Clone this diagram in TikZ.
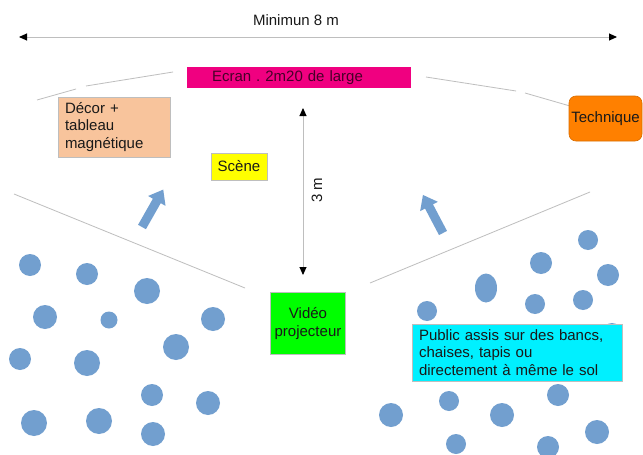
\documentclass[tikz,border=0pt]{standalone}
\usepackage{fontspec}
\setmainfont{Liberation Sans}
\frenchspacing
\usetikzlibrary{arrows.meta}
\definecolor{ecran}{RGB}{240,0,128}
\definecolor{ecrantxt}{RGB}{70,0,40}
\definecolor{peach}{RGB}{248,196,156}
\definecolor{jaune}{RGB}{255,255,0}
\definecolor{orangeT}{RGB}{255,128,0}
\definecolor{vert}{RGB}{0,255,0}
\definecolor{cyanP}{RGB}{0,240,255}
\definecolor{bleu}{RGB}{114,159,207}
\definecolor{grisL}{RGB}{190,190,190}
\definecolor{txt}{RGB}{25,25,25}
\tikzset{
  lbl/.style={font=\fontsize{15}{17.4}\selectfont, text=txt},
  box/.style={lbl, draw=grisL, line width=0.6pt, inner sep=0pt},
  pers/.style={fill=bleu},
  thin/.style={draw=grisL, line width=0.8pt},
  dim/.style={draw=grisL, line width=0.9pt, {Triangle[length=8pt,width=7pt,color=black,fill=black]}-{Triangle[length=8pt,width=7pt,color=black,fill=black]}},
  blockarrow/.style={fill=bleu}
}
\begin{document}
\begin{tikzpicture}[x=1pt,y=-1pt]
\useasboundingbox (0,0) rectangle (643,455);
\fill[white] (0,0) rectangle (643,455);
% width dimension
\coordinate (L) at (19,37);
\coordinate (R) at (617,37);
\draw[dim] (L) -- (R);
\node[lbl] (minimun) at (296,20) {Minimun 8 m};
% stage outline lines
\draw[thin] (37,100) -- (76,89);
\draw[thin] (86,86) -- (173,72);
\draw[thin] (426,77) -- (516,91);
\draw[thin] (525,93) -- (570,106);
\draw[thin] (14,194) -- (245,288);
\draw[thin] (370,283) -- (590,192);
% screen
\node[box, draw=none, fill=ecran, text=ecrantxt, text width=174pt, align=left, inner xsep=25pt, minimum height=21pt] (ecran) at (299,77.5) {Ecran . 2m20 de large};
% decor
\node[box, fill=peach, text width=98pt, align=left, inner xsep=7pt, minimum height=60pt] (decor) at (114,127) {Décor +\\tableau\\magnétique};
% scene
\node[box, fill=jaune, minimum width=56pt, minimum height=27pt] (scene) at (239,166.5) {Scène};
% technique
\node[box, draw=orangeT!85!black, fill=orangeT, rounded corners=7pt, minimum width=73pt, minimum height=45pt] (tech) at (605.5,118.5) {Technique};
% 3 m dimension
\coordinate (vt) at (303,108);
\coordinate (vb) at (303,275);
\draw[dim] (vt) -- (vb);
\node[lbl, rotate=90] (troism) at (317,190) {3 m};
% block arrows
\begin{scope}[shift={(142,227)}, rotate=60.4]
\fill[blockarrow] (0,-4.5) -- (30,-4.5) -- (30,-10) -- (43,0) -- (30,10) -- (30,4.5) -- (0,4.5) -- cycle;
\end{scope}
\begin{scope}[shift={(443,233)}, rotate=117.8]
\fill[blockarrow] (0,-4.5) -- (30,-4.5) -- (30,-10) -- (43,0) -- (30,10) -- (30,4.5) -- (0,4.5) -- cycle;
\end{scope}
% audience left
\foreach \x/\y/\r in {30/265/11, 87/274/11, 147/291/13, 45/317/12, 109/320/8.5, 213/319/12, 176/347/13, 20/359/11, 87/363/13, 152/395/11, 208/403/12, 34/423/13, 99/421/13, 153/434/12}
  \fill[pers] (\x,\y) circle[radius=\r pt];
% audience right
\foreach \x/\y/\r in {588/240/10, 541/263/11, 608/275/11, 535/304/10, 583/300/10, 427/311/10, 612/333/10, 391/415/12, 449/401/10, 502/415/12, 558/395/11, 597/432/12, 456/444/10, 548/447/11}
  \fill[pers] (\x,\y) circle[radius=\r pt];
\fill[pers] (486,288) circle[x radius=11pt, y radius=14.5pt];
% projector
\node[box, fill=vert, align=center, minimum width=75pt, minimum height=62pt] (video) at (308,323.5) {Vidéo\\projecteur};
% public
\node[box, fill=cyanP, text width=196pt, align=left, inner xsep=7pt, minimum height=57pt] (public) at (517,352.5) {Public assis sur des bancs,\\chaises, tapis ou\\directement à même le sol};
\end{tikzpicture}
\end{document}
